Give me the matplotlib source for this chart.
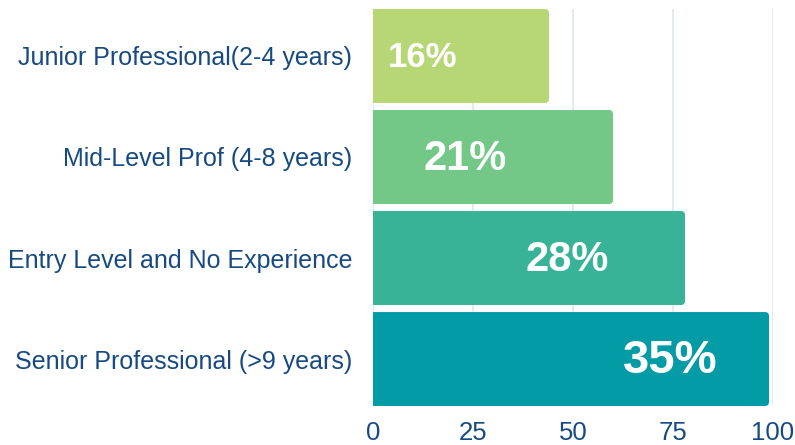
import matplotlib
matplotlib.use("Agg")
import matplotlib.pyplot as plt
from matplotlib.patches import FancyBboxPatch

categories = ["Junior Professional(2-4 years)", "Mid-Level Prof (4-8 years)",
              "Entry Level and No Experience", "Senior Professional (>9 years)"]
values = [44, 60, 78, 99]
labels = ["16%", "21%", "28%", "35%"]
label_sizes = [25, 30, 30, 34]
label_x = [12.4, 23, 48.5, 74.3]
colors = ["#b7d776", "#73c887", "#38b398", "#029ba6"]
ticks = [0, 25, 50, 75, 100]

TEXT = "#174a82"
plt.rcParams['font.family'] = ['Liberation Sans', 'DejaVu Sans']

fig = plt.figure(figsize=(7.95, 4.45), dpi=100)
W, H = 795, 445
ax = fig.add_axes([373 / W, 1 - 406 / H, 400 / W, 397 / H])

ypos = list(range(len(categories)))
bars = ax.barh(ypos, values, height=0.93, color=colors)
for rect, c in zip(bars, colors):
    x, y, w, h = rect.get_x(), rect.get_y(), rect.get_width(), rect.get_height()
    rect.set_visible(False)
    p = FancyBboxPatch((x - 3, y), w + 3, h,
                       boxstyle="round,pad=0,rounding_size=1.0",
                       mutation_aspect=0.04, facecolor=c, edgecolor='none',
                       zorder=2)
    ax.add_patch(p)
    p.set_clip_path(ax.patch)

for yp, lab, fs, lx in zip(ypos, labels, label_sizes, label_x):
    ax.text(lx, yp + 0.02, lab, ha='center', va='center', color='white',
            fontsize=fs, fontweight='bold', zorder=3)

ax.set_xlim(0, 100)
ax.set_ylim(3.465, -0.465)
ax.set_xticks(ticks)
ax.set_xticklabels([str(t) for t in ticks])
ax.set_yticks(ypos)
ax.set_yticklabels(categories)
ax.tick_params(axis='both', length=0, labelcolor=TEXT)
ax.tick_params(axis='x', pad=11, labelsize=18.5)
ax.tick_params(axis='y', pad=15, labelsize=18)
for s in ax.spines.values():
    s.set_visible(False)
ax.grid(axis='x', color='#e0e6ee', linewidth=1.2, zorder=0)
ax.set_axisbelow(True)

fig.savefig("out.png", dpi=100)
